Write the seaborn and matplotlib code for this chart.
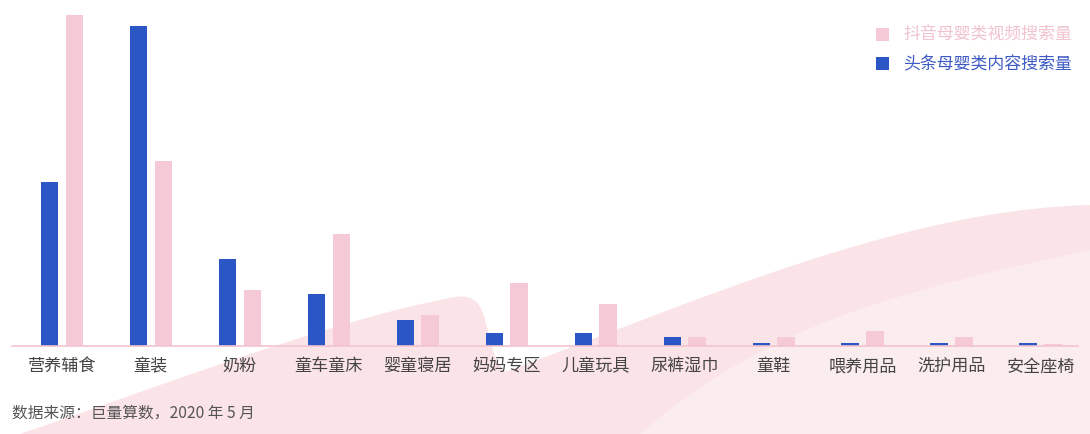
import matplotlib
matplotlib.use('Agg')
import matplotlib.pyplot as plt
from matplotlib.path import Path
from matplotlib.patches import PathPatch, Rectangle
import pandas as pd
import seaborn as sns

# --- data (relative units) ---
categories = ['营养辅食', '童装', '奶粉', '童车童床', '婴童寝居', '妈妈专区',
              '儿童玩具', '尿裤湿巾', '童鞋', '喂养用品', '洗护用品', '安全座椅']
toutiao = [164, 320, 87, 52, 26, 13, 13, 9, 3.5, 3.5, 3.5, 3.5]
douyin = [331, 185, 56, 112, 31, 63, 42, 9, 9, 15, 9, 2]
series_names = ['头条母婴类内容搜索量', '抖音母婴类视频搜索量']

blue = '#2b57c6'
pink = '#f5c9d5'

df = pd.DataFrame({
    'category': categories * 2,
    'value': toutiao + douyin,
    'series': [series_names[0]] * len(categories) + [series_names[1]] * len(categories),
})

sns.set_theme(style='white')
plt.rcParams['font.family'] = ['Noto Sans CJK SC', 'DejaVu Sans']

fig = plt.figure(figsize=(10.9, 4.34), dpi=100)

# --- background decoration (soft pink waves) ---
bg = fig.add_axes([0, 0, 1, 1], zorder=0)
bg.set_xlim(0, 1090)
bg.set_ylim(434, 0)
bg.axis('off')
verts = [(20, 434), (150, 390), (330, 320), (455, 297),
         (495, 290), (480, 345), (505, 372),
         (700, 300), (900, 210), (1090, 205),
         (1090, 434), (20, 434)]
codes = [Path.MOVETO, Path.CURVE4, Path.CURVE4, Path.CURVE4,
         Path.CURVE4, Path.CURVE4, Path.CURVE4,
         Path.CURVE4, Path.CURVE4, Path.CURVE4,
         Path.LINETO, Path.CLOSEPOLY]
bg.add_patch(PathPatch(Path(verts, codes), facecolor='#fbe4e8', edgecolor='none'))
verts2 = [(640, 434), (760, 330), (880, 300), (1000, 270), (1090, 250), (1090, 434), (640, 434)]
codes2 = [Path.MOVETO, Path.CURVE4, Path.CURVE4, Path.CURVE4, Path.LINETO, Path.LINETO, Path.CLOSEPOLY]
bg.add_patch(PathPatch(Path(verts2, codes2), facecolor='#fcefef', edgecolor='none', alpha=0.8))

# --- bars ---
ax = fig.add_axes([12 / 1090, 88 / 434, 1066 / 1090, 340 / 434], zorder=1)
ax.patch.set_alpha(0)
sns.barplot(data=df, x='category', y='value', hue='series', hue_order=series_names,
            palette=[blue, pink], width=0.56, gap=0.3, dodge=True, legend=False,
            saturation=1, linewidth=0, ax=ax)

ax.set_xlim(-0.56, 11.42)
ax.set_ylim(0, 340)
ax.set_xlabel('')
ax.set_ylabel('')
ax.set_yticks([])
ax.tick_params(axis='x', length=0, pad=8, labelsize=12.3, labelcolor='#444444')
for s in ['top', 'right', 'left']:
    ax.spines[s].set_visible(False)
ax.spines['bottom'].set_color('#f2c4d0')
ax.spines['bottom'].set_linewidth(1.2)

# --- legend ---
lx, ly = 876 / 1090, 1 - 35 / 434
for i, (name, col, tcol) in enumerate([(series_names[1], pink, '#f1c3cf'),
                                       (series_names[0], blue, '#3f5bc4')]):
    y = ly - i * 29 / 434
    fig.patches.append(Rectangle((lx, y - 6 / 434), 13 / 1090, 13 / 434,
                                 transform=fig.transFigure, facecolor=col,
                                 edgecolor='none', zorder=3))
    fig.text(903 / 1090, y, name, color=tcol, fontsize=12.2, va='center', ha='left')

# --- source note ---
fig.text(12 / 1090, 1 - 413 / 434, '数据来源：巨量算数，2020 年 5 月',
         fontsize=11.3, color='#555555', fontweight='medium', va='center', ha='left')

fig.savefig('out.png', dpi=100, facecolor='white')
